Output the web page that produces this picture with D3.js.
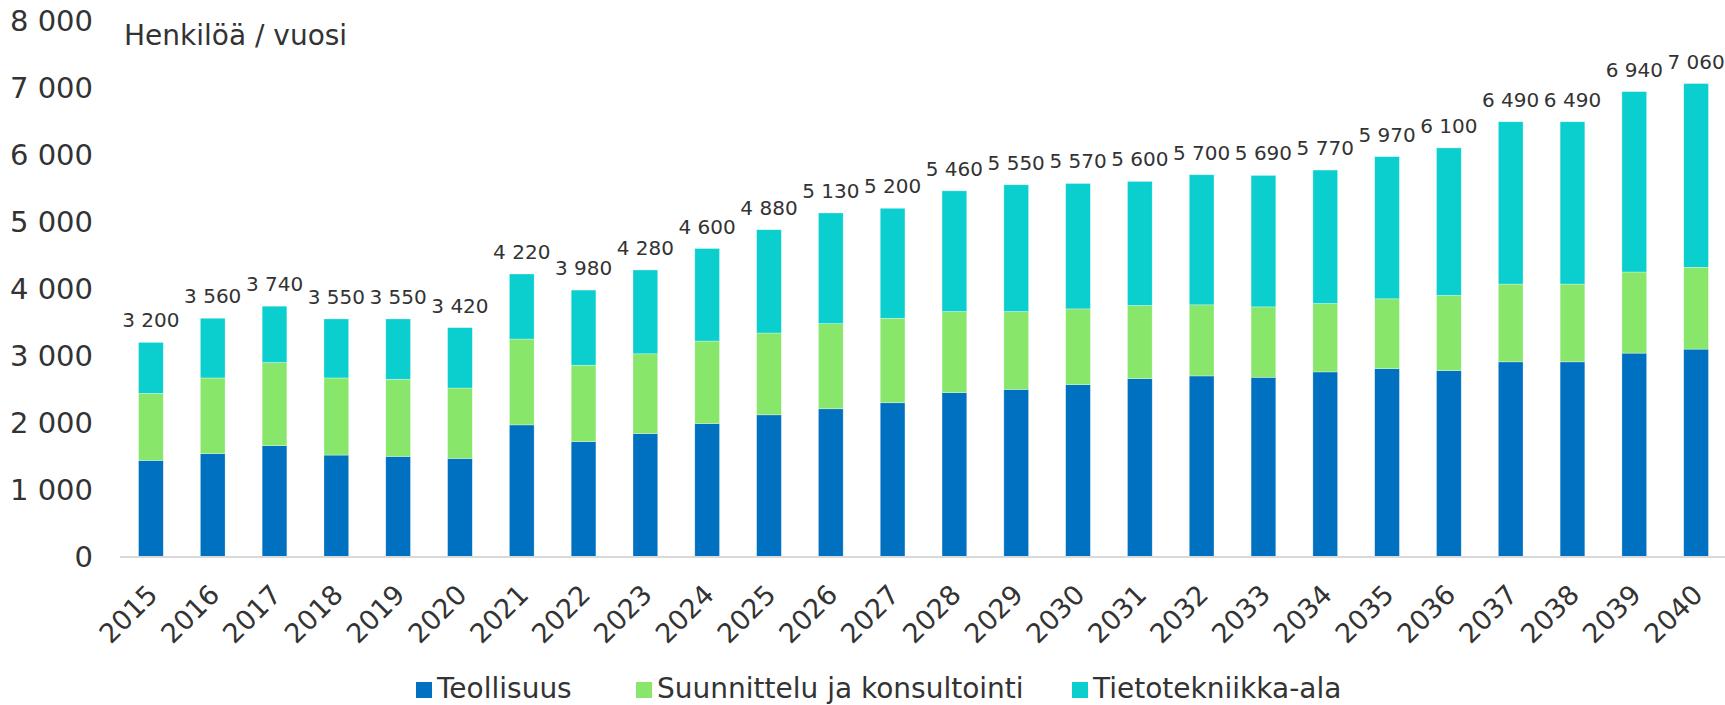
<!DOCTYPE html>
<html>
<head>
<meta charset="utf-8">
<script src="https://cdn.jsdelivr.net/npm/d3@7"></script>
<style>
  body { margin: 0; background: #fff; }
  text { font-family: "DejaVu Sans", Verdana, sans-serif; fill: #333; }
</style>
</head>
<body>
<div id="wrapper"></div>
<script>
const years = d3.range(2015, 2041).map(String);
const teollisuus = [1440, 1540, 1660, 1520, 1500, 1470, 1970, 1720, 1840, 1990, 2120, 2210, 2300,
  2450, 2500, 2570, 2660, 2700, 2680, 2760, 2810, 2780, 2910, 2910, 3040, 3100];
const suunnittelu = [1000, 1130, 1240, 1150, 1150, 1050, 1280, 1140, 1190, 1230, 1220, 1270, 1260,
  1210, 1160, 1130, 1090, 1060, 1050, 1020, 1040, 1120, 1160, 1160, 1210, 1220];
const tieto = [760, 890, 840, 880, 900, 900, 970, 1120, 1250, 1380, 1540, 1650, 1640,
  1800, 1890, 1870, 1850, 1940, 1960, 1990, 2120, 2200, 2420, 2420, 2690, 2740];
const totalLabels = ["3 200", "3 560", "3 740", "3 550", "3 550", "3 420", "4 220", "3 980", "4 280",
  "4 600", "4 880", "5 130", "5 200", "5 460", "5 550", "5 570", "5 600", "5 700", "5 690", "5 770",
  "5 970", "6 100", "6 490", "6 490", "6 940", "7 060"];
const seriesNames = ["Teollisuus", "Suunnittelu ja konsultointi", "Tietotekniikka-ala"];
const colors = ["#0070C0", "#88E76A", "#0BCFCF"];
const yTicks = [0, 1000, 2000, 3000, 4000, 5000, 6000, 7000, 8000];

let dimensions = { width: 1725, height: 705 };

const rows = years.map((y, i) => ({
  year: y,
  [seriesNames[0]]: teollisuus[i],
  [seriesNames[1]]: suunnittelu[i],
  [seriesNames[2]]: tieto[i],
  label: totalLabels[i]
}));

const stack = d3.stack().keys(seriesNames);
const stacked = stack(rows);

const wrapper = d3.select("#wrapper").append("svg")
  .attr("width", dimensions.width)
  .attr("height", dimensions.height);

const xScale = d3.scaleBand()
  .domain(years)
  .range([120, 1727])
  .paddingInner(0.6)
  .paddingOuter(0.3);

const yScale = d3.scaleLinear()
  .domain([0, 8000])
  .range([557, 20.5]);

const fmt = v => d3.format(",")(v).replace(/,/g, " ");

// y tick labels (no axis line)
wrapper.append("g").selectAll("text")
  .data(yTicks)
  .join("text")
  .attr("x", 93)
  .attr("y", d => yScale(d))
  .attr("dy", "0.36em")
  .attr("text-anchor", "end")
  .style("font-size", "29px")
  .text(fmt);

wrapper.append("text")
  .attr("x", 124)
  .attr("y", 45)
  .style("font-size", "28px")
  .text("Henkilöä / vuosi");

// bars
wrapper.append("g").selectAll("g")
  .data(stacked)
  .join("g")
  .attr("fill", (d, i) => colors[i])
  .selectAll("rect")
  .data(d => d)
  .join("rect")
  .attr("x", d => xScale(d.data.year))
  .attr("width", xScale.bandwidth())
  .attr("y", d => yScale(d[1]))
  .attr("height", d => yScale(d[0]) - yScale(d[1]))
  .attr("stroke", "#fff")
  .attr("stroke-opacity", 0.5)
  .attr("stroke-width", 0.6);

// x axis line
wrapper.append("line")
  .attr("x1", 120).attr("x2", 1725)
  .attr("y1", 557).attr("y2", 557)
  .attr("stroke", "#D9D9D9")
  .attr("stroke-width", 2);

// total labels
const topLayer = stacked[stacked.length - 1];
wrapper.append("g").selectAll("text")
  .data(topLayer)
  .join("text")
  .attr("x", d => xScale(d.data.year) + xScale.bandwidth() / 2)
  .attr("y", d => yScale(d[1]) - 15)
  .attr("text-anchor", "middle")
  .style("font-size", "20px")
  .text(d => d.data.label);

// x tick labels rotated
wrapper.append("g").selectAll("text")
  .data(years)
  .join("text")
  .attr("transform", d => `translate(${xScale(d) + xScale.bandwidth() / 2 - 5},${583}) rotate(-45)`)
  .attr("text-anchor", "end")
  .attr("dy", "0.7em")
  .style("font-size", "27px")
  .text(d => d);

// legend
const legend = wrapper.append("g");
const legendX = [416, 636, 1072];
seriesNames.forEach((name, i) => {
  legend.append("rect")
    .attr("x", legendX[i]).attr("y", 682)
    .attr("width", 16).attr("height", 16)
    .attr("fill", colors[i]);
  legend.append("text")
    .attr("x", legendX[i] + 21)
    .attr("y", 698)
    .style("font-size", "28px")
    .text(name);
});
</script>
</body>
</html>
